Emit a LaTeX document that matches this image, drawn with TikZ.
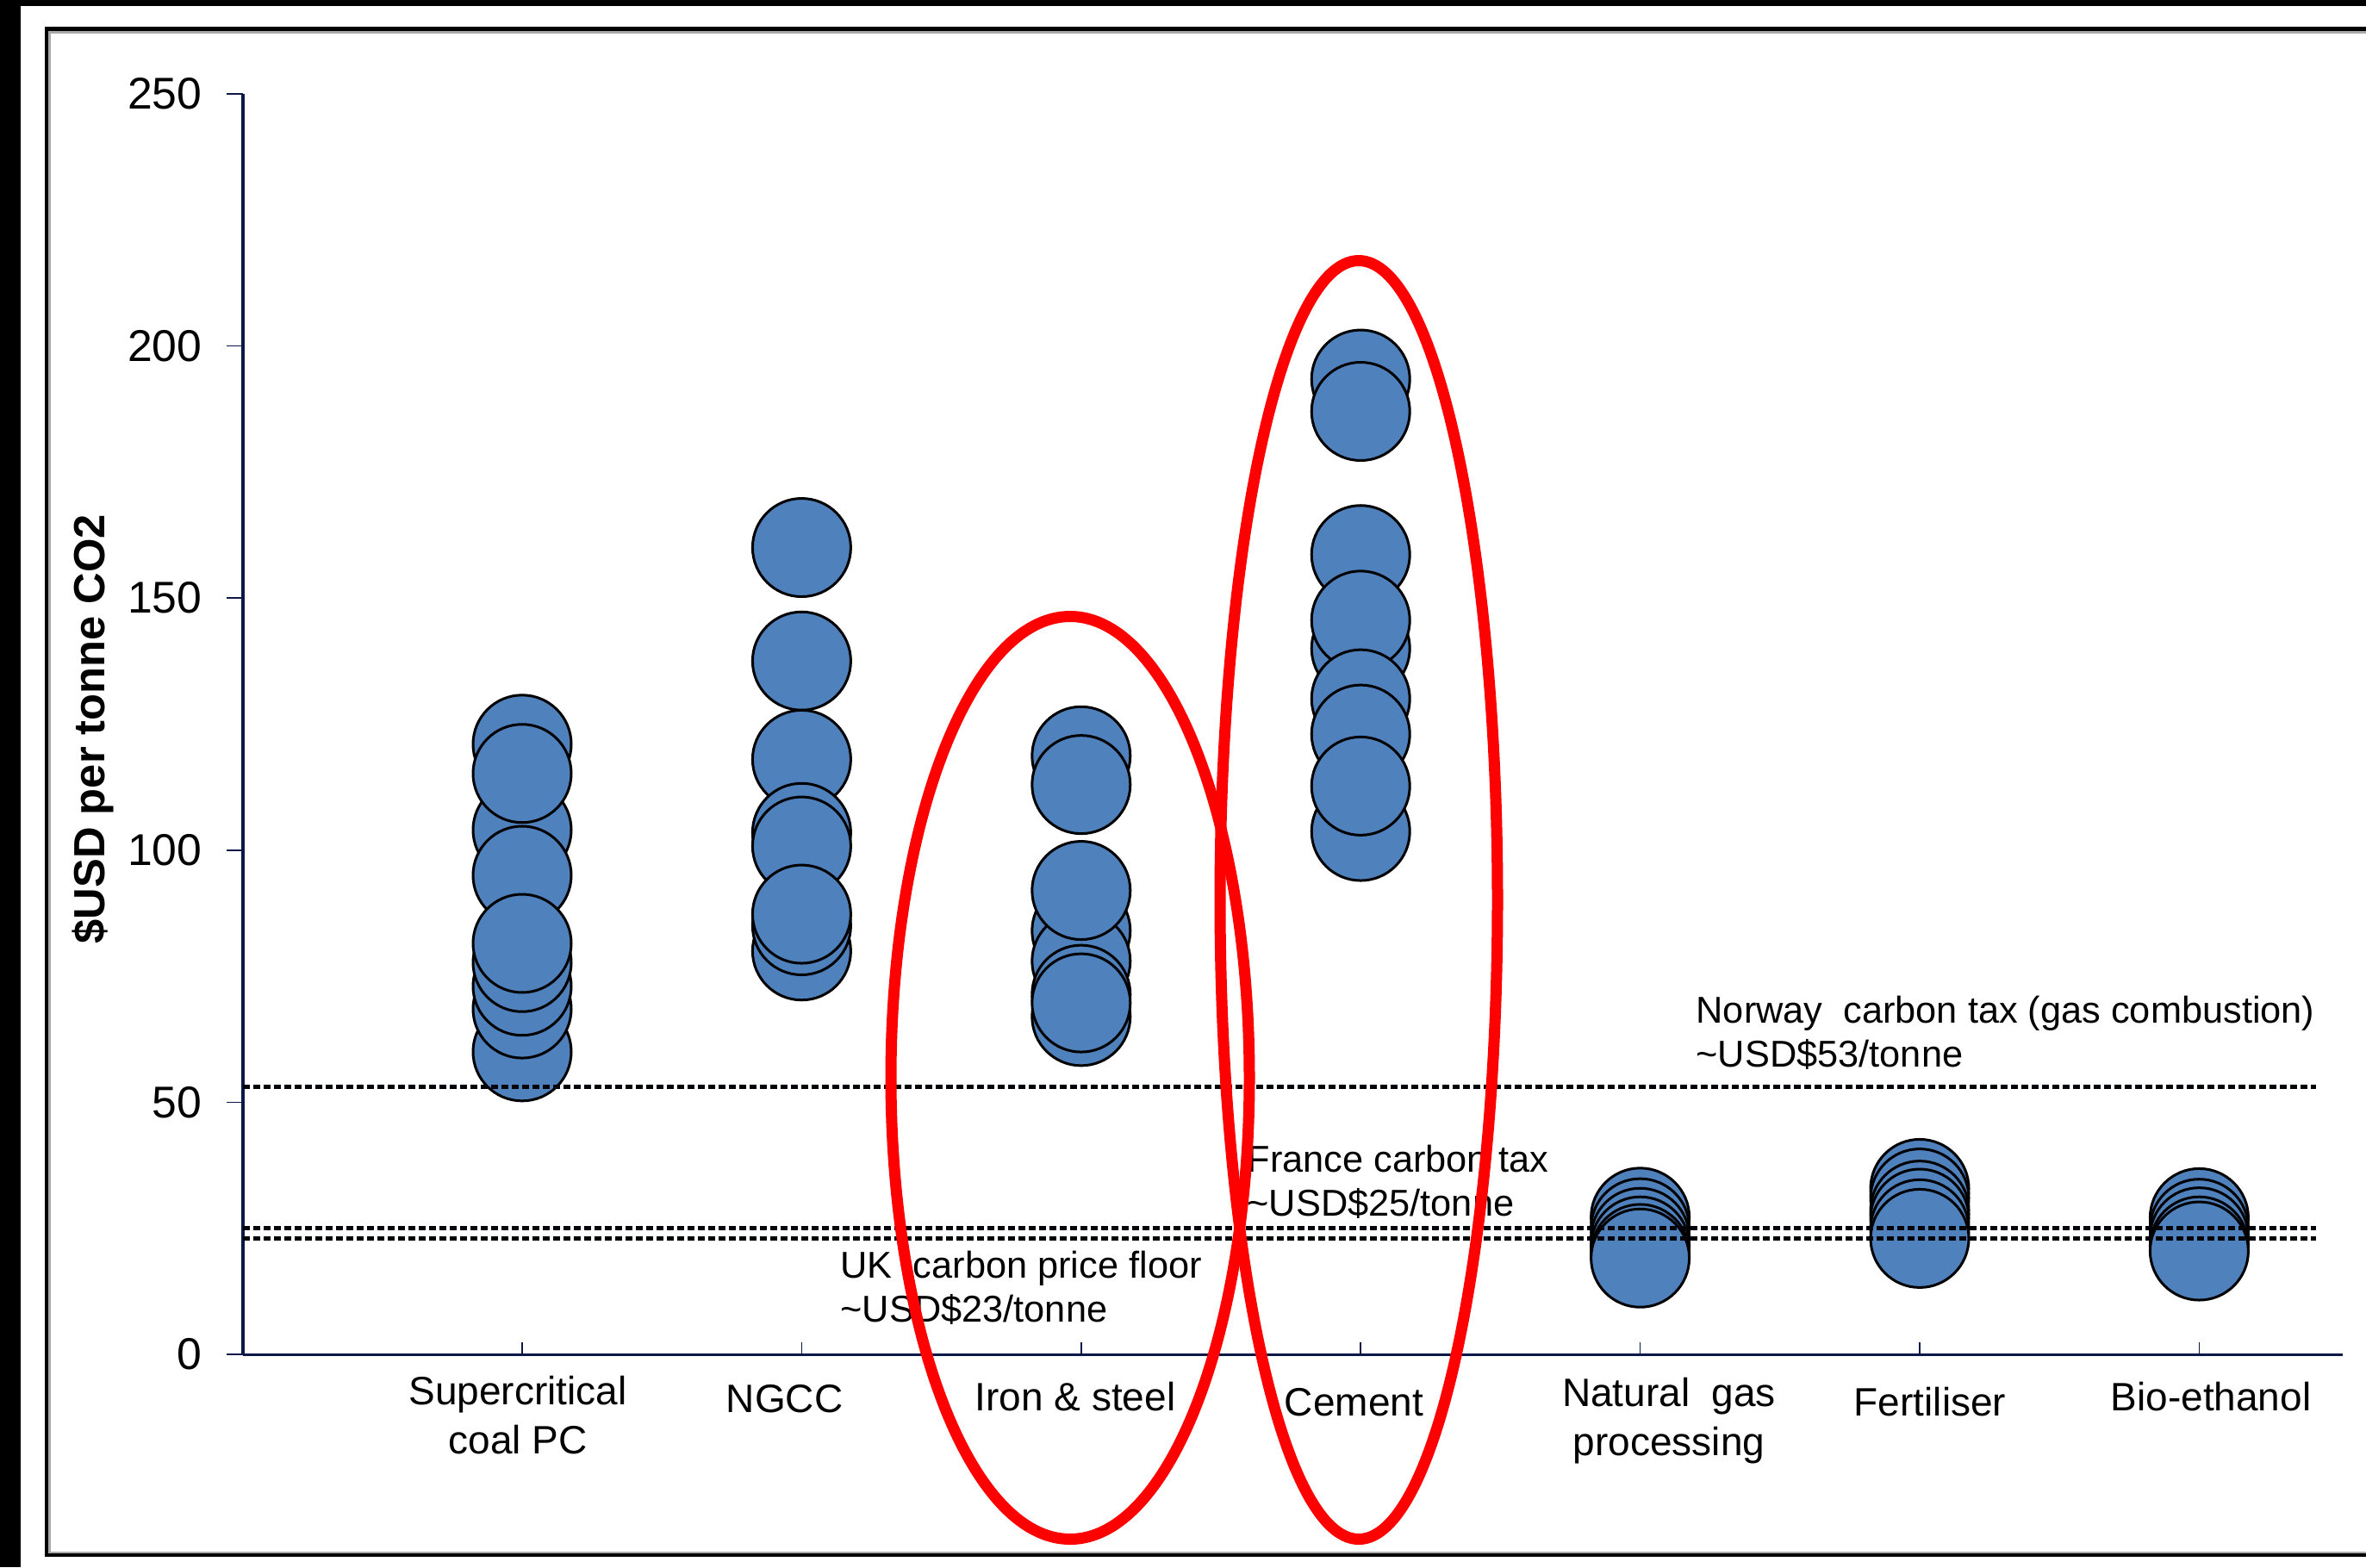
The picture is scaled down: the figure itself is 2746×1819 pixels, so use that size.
\documentclass[tikz,border=0pt]{standalone}
\usepackage{fontspec}
\setmainfont{Liberation Sans}
\definecolor{ptblue}{RGB}{79,129,189}
\definecolor{axnavy}{RGB}{12,24,70}
\definecolor{framegray}{RGB}{170,170,170}
\begin{document}
\begin{tikzpicture}[x=0.3pt,y=-0.3pt,
  dot/.style={circle,draw=black,fill=ptblue,line width=0.9pt,minimum size=34.2pt,inner sep=0pt},
  ring/.style={draw=red,line width=3.9pt},
  taxline/.style={draw=black!85!axnavy,line width=1.5pt,dash pattern=on 2.4pt off 1.2pt},
  axisline/.style={draw=axnavy,line width=1.2pt},
  tickline/.style={draw=axnavy,line width=0.5pt},
  ticklab/.style={font=\fontsize{15.5}{18}\selectfont,anchor=east,inner sep=0pt},
  catlab/.style={font=\fontsize{13.8}{17}\selectfont,align=center,anchor=base,inner sep=0pt},
  annot/.style={font=\fontsize{13}{15.3}\selectfont,align=left,anchor=base west,inner sep=0pt},
]
\useasboundingbox (0,0) rectangle (2746,1819);
\fill[white] (0,0) rectangle (2746,1819);
% outer black bands
\fill[black] (0,0) rectangle (2746,7);
\fill[black] (0,0) rectangle (24,1819);
% frame
\fill[framegray] (56,36) rectangle (2746,38.5);
\fill[framegray] (56,36) rectangle (59,1803);
\fill[framegray] (56,1800.5) rectangle (2746,1803);
\fill[black] (52,31) rectangle (2746,36);
\fill[black] (52,31) rectangle (56,1807);
\fill[black] (52,1803) rectangle (2746,1807);

% axes
\draw[axisline] (282,108.7) -- (282,1572);
\draw[axisline,line width=0.9pt] (282,1572) -- (2719,1572);
\foreach \v in {0,50,100,150,200,250} {
  \draw[tickline] (263,{1572-5.853*\v}) -- (282,{1572-5.853*\v});
  \node[ticklab] (yl\v) at (235,{1572-5.853*\v}) {\v};
}
\foreach \x in {606,930.4,1254.8,1579.2,1903.6,2228,2552.4}
  \draw[tickline] (\x,1572) -- (\x,1558);

\node[font=\bfseries\fontsize{15.2}{18}\selectfont,rotate=90,anchor=base,inner sep=0pt] (ytitle) at (121,846) {\$USD per tonne CO2};

% data points
\foreach \v [count=\i] in {121,104,95,60,68.5,73,77.7,115.2,81.5}
  \node[dot] (sc\i) at (606,{1572-5.853*\v}) {};
\foreach \v [count=\i] in {160,137.5,118,80,85,103.5,100.8,87.3}
  \node[dot] (ng\i) at (930.4,{1572-5.853*\v}) {};
\foreach \v [count=\i] in {118.7,113,84,78,67,71.4,92,69.7}
  \node[dot] (is\i) at (1254.8,{1572-5.853*\v}) {};
\foreach \v [count=\i] in {193.4,187,158.6,140,145.6,130,103.7,123,112.7}
  \node[dot] (ce\i) at (1579.2,{1572-5.853*\v}) {};
\foreach \v [count=\i] in {27.2,25.1,23.2,21.5,20,19.1}
  \node[dot] (na\i) at (1903.6,{1572-5.853*\v}) {};
\foreach \v [count=\i] in {32.9,31,28.6,27,24.9,23}
  \node[dot] (fe\i) at (2228,{1572-5.853*\v}) {};
\foreach \v [count=\i] in {27.1,25,23.3,21.5,20.5}
  \node[dot] (be\i) at (2552.4,{1572-5.853*\v}) {};

% carbon price lines
\draw[taxline] (282,{1572-5.853*53}) -- (2688,{1572-5.853*53});
\draw[taxline] (282,{1572-5.853*25}) -- (2688,{1572-5.853*25});
\draw[taxline] (282,{1572-5.853*23}) -- (2688,{1572-5.853*23});

% annotations (anchor = baseline of last line)
\node[annot] (norway) at (1968,1238) {Norway\ \ carbon tax (gas combustion)\\\textasciitilde USD\$53/tonne};
\node[annot] (france) at (1447,1411) {France carbon tax\\\textasciitilde USD\$25/tonne};
\node[annot] (uk) at (975,1534) {UK\ \ carbon price floor\\\textasciitilde USD\$23/tonne};

% category labels
\node[catlab] (cat1) at (601,1687) {Supercritical\\coal PC};
\node[catlab] (cat2) at (910.5,1639) {NGCC};
\node[catlab] (cat3) at (1248,1637) {Iron \& steel};
\node[catlab] (cat4) at (1571.5,1643) {Cement};
\node[catlab] (cat5) at (1937,1689) {Natural\ \ gas\\processing};
\node[catlab] (cat6) at (2240,1643) {Fertiliser};
\node[catlab] (cat7) at (2566,1637) {Bio-ethanol};

% red highlight ellipses
\draw[ring] (1242,1251) ellipse [x radius=62.4pt, y radius=160.65pt];
\draw[ring] (1577,1044.5) ellipse [x radius=48.3pt, y radius=222.6pt];
\end{tikzpicture}
\end{document}
